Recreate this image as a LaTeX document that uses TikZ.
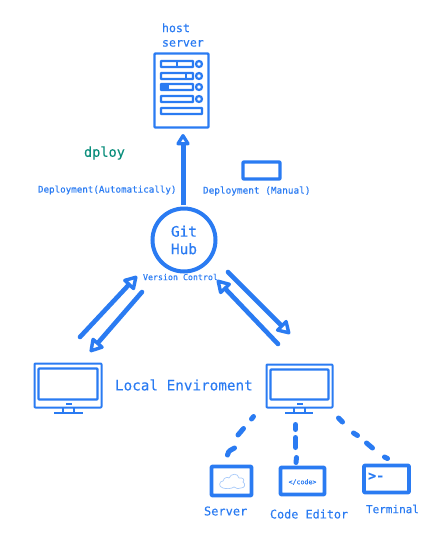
\documentclass[tikz,border=0pt]{standalone}
\usepackage{fontspec}
\setmonofont{DejaVu Sans Mono}[FakeBold=0.25]
\usetikzlibrary{arrows.meta}
\definecolor{bl}{HTML}{2A7BF2}
\definecolor{lbl}{HTML}{A9CBFA}
\definecolor{tl}{HTML}{0B8E7C}
\tikzset{
  x=1pt,y=-1pt,
  every node/.style={inner sep=0pt,outer sep=0pt,font=\ttfamily,text=bl},
  frame/.style={draw=bl,line width=#1,line join=round,rounded corners=0.8pt,anchor=center},
  frame/.default=2,
  lab/.style={align=left,anchor=west},
  link/.style={draw=bl,line width=4.6pt,line cap=round,
    -{Triangle[fill=white,length=15pt,width=17pt,line width=3.4pt,round]}},
  dashline/.style={draw=bl,line width=5pt,line cap=round},
  rowbar/.style={draw=bl,line width=2.2pt,rounded corners=0.5pt},
  rowdot/.style={circle,draw=bl,line width=2.2pt,minimum size=6pt,fill=white},
  thin stroke/.style={draw=bl,line width=#1},
}
\begin{document}
\begin{tikzpicture}
\useasboundingbox (0,0) rectangle (444,550);
% host server
\node[frame=2.4,minimum width=54pt,minimum height=74pt] (srv) at (181.5,90.5) {};
\foreach \y/\w/\xs/\n in {64/32/177/a,76/32/186/b,87/32/168/c,99/32/0/d}{
  \draw[rowbar] (161,\y-3) rectangle (193,\y+3);
  \node[rowdot] (dot\n) at (199,\y) {};
  \ifnum\xs>0 \draw[thin stroke=2pt] (\xs,\y-3) -- (\xs,\y+3); \fi
}
\fill[bl] (161,84) rectangle (168,90);
\draw[rowbar] (161,108) rectangle (202,114);
\node[lab,font=\ttfamily\fontsize{11.6}{14.5}\selectfont] (hostlab) at (162,35) {host\\server};
% top labels
\node[lab,text=tl,font=\ttfamily\fontsize{13.6}{16}\selectfont] (dploy) at (84,153) {dploy};
\node[frame=3.4,minimum width=37pt,minimum height=17pt] (manual) at (261.5,170.5) {};
\node[lab,font=\ttfamily\fontsize{9.2}{11}\selectfont] (autolab) at (38,190) {Deployment(Automatically)};
\node[lab,font=\ttfamily\fontsize{9.4}{11}\selectfont] (manlab) at (203,191) {Deployment (Manual)};
% hub
\node[circle,draw=bl,line width=4pt,minimum size=63pt,align=center,
      font=\ttfamily\fontsize{14.4}{17.5}\selectfont] (hub) at (184,240) {Git\\Hub};
\node[lab,font=\ttfamily\fontsize{8.3}{10}\selectfont] (vc) at (143,277) {Version Control};
% monitors
\node[frame=2,minimum width=67pt,minimum height=44pt] (lpc) at (68,385.5) {};
\node[frame=2.4,minimum width=59pt,minimum height=31pt] (lscr) at (68,384) {};
\fill[bl] (66,403) rectangle (72,405);
\draw[thin stroke=2pt] (63,408) -- (63,413) (74,408) -- (74,413) (54,413) -- (83,413);
\node[frame=2,minimum width=66pt,minimum height=43pt] (rpc) at (299.5,386) {};
\node[frame=2.4,minimum width=58pt,minimum height=30pt] (rscr) at (299.5,384.5) {};
\fill[bl] (297,403) rectangle (303,405);
\draw[thin stroke=2pt] (294,408) -- (294,413) (305,408) -- (305,413) (285,413) -- (313,413);
\node[lab,font=\ttfamily\fontsize{14.3}{17}\selectfont] (local) at (115,385) {Local Enviroment};
% arrows
\draw[draw=bl,line width=5pt,-{Triangle[fill=white,length=13pt,width=15pt,line width=3.4pt,round]}]
  ([shift={(-1,-35)}]hub.center) -- ([shift={(1.5,43.5)}]srv.center);
\draw[link] ([shift={(12,-48.5)}]lpc.center) -- ([shift={(-47,36)}]hub.center);
\draw[link] ([shift={(-42,52)}]hub.center) -- ([shift={(22,-33.5)}]lpc.center);
\draw[link] ([shift={(44,32)}]hub.center) -- ([shift={(-9.5,-52)}]rpc.center);
\draw[link] ([shift={(-21.5,-42)}]rpc.center) -- ([shift={(33,40)}]hub.center);
% lower boxes
\node[frame=3.8,minimum width=40pt,minimum height=29pt] (sbox) at (231.5,481) {};
\node[frame=3.8,minimum width=44pt,minimum height=27pt] (cbox) at (302.5,481) {};
\node[frame=3.8,minimum width=45pt,minimum height=27pt] (tbox) at (386.5,479) {};
\node[font=\ttfamily\fontsize{6.6}{8}\selectfont] (code) at (302.5,482) {</code>};
\node[anchor=west,font=\ttfamily\bfseries\fontsize{13.5}{15}\selectfont] (prompt) at (368,476.5) {>-};
\draw[draw=lbl,line width=0.7pt,fill=white,line join=round]
  (223,488) .. controls (218,487) and (219,481) .. (223,481)
  .. controls (224,477) and (228,477) .. (229,478)
  .. controls (231,473) and (238,473) .. (239,478)
  .. controls (243,477) and (245,480) .. (243,482)
  .. controls (246,484) and (245,488) .. (241,488)
  .. controls (239,489) and (236,489) .. (234,487)
  .. controls (231,489) and (226,489) .. (223,488) -- cycle;
\node[lab,font=\ttfamily\fontsize{12}{14}\selectfont] (slab) at (204,511) {Server};
\node[lab,font=\ttfamily\fontsize{11.8}{14}\selectfont] (clab) at (270,514) {Code Editor};
\node[lab,font=\ttfamily\fontsize{11}{13}\selectfont] (tlab) at (366,509) {Terminal};
% dashed links
\draw[dashline] ([shift={(-4,-26)}]sbox.center) .. controls +(1,-5) and +(-3,2) .. ([shift={(3,-33)}]sbox.center);
\draw[dashline] ([shift={(6.5,-46)}]sbox.center) -- ([shift={(12,-52.5)}]sbox.center);
\draw[dashline] ([shift={(20,-62)}]sbox.center) -- ([shift={(22,-64.5)}]sbox.center);
\draw[dashline] ([shift={(-6.5,-18.5)}]cbox.center) -- ([shift={(-6,-23.5)}]cbox.center);
\draw[dashline] ([shift={(-7,-33.5)}]cbox.center) -- ([shift={(-7,-43.5)}]cbox.center);
\draw[dashline] ([shift={(-7,-51.5)}]cbox.center) -- ([shift={(-7,-56.5)}]cbox.center);
\draw[dashline] ([shift={(-48,-61)}]tbox.center) -- ([shift={(-44,-57)}]tbox.center);
\draw[dashline] ([shift={(-33,-46)}]tbox.center) -- ([shift={(-29,-43.5)}]tbox.center);
\draw[dashline] ([shift={(-20,-36)}]tbox.center) -- ([shift={(-14,-31)}]tbox.center);
\draw[dashline] ([shift={(-2,-22)}]tbox.center) -- ([shift={(1,-20.5)}]tbox.center);
\end{tikzpicture}
\end{document}
